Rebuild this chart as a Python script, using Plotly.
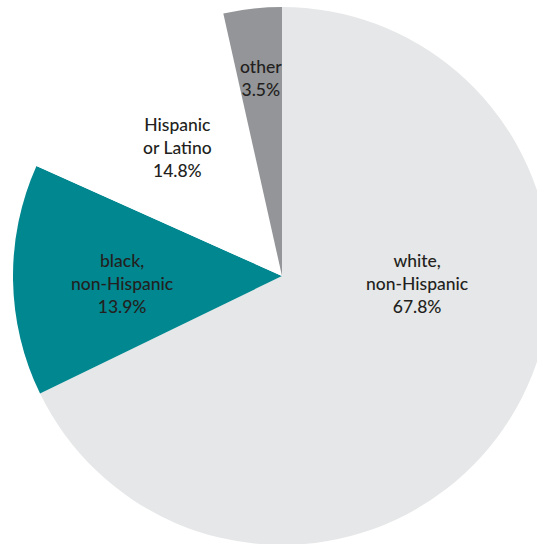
import plotly.graph_objects as go

# Data
categories = ["white,<br>non-Hispanic", "black,<br>non-Hispanic", "Hispanic<br>or Latino", "other"]
shares = [67.8, 13.9, 14.8, 3.5]

# Styles
colors = ["#e6e7e8", "#00878f", "#ffffff", "#939598"]
label_px = [(417, 283), (122, 283), (177, 148), (261, 78)]  # label centers in pixels

W, H = 560, 550
cx, cy, r = 282, 276, 269

fig = go.Figure(go.Pie(
    labels=categories,
    values=shares,
    sort=False,
    direction="clockwise",
    rotation=0,
    marker=dict(colors=colors, line=dict(width=0)),
    textinfo="none",
    hoverinfo="label+percent",
    domain=dict(x=[(cx - r) / W, (cx + r) / W], y=[(H - (cy + r)) / H, (H - (cy - r)) / H]),
    showlegend=False,
))

for cat, val, (px, py) in zip(categories, shares, label_px):
    fig.add_annotation(
        x=px / W, y=1 - py / H, xref="paper", yref="paper",
        text=f"{cat}<br>{val:.1f}%", showarrow=False,
        xanchor="center", yanchor="middle", align="center",
        font=dict(family="Lato", size=17.5, color="#231f20", weight=500),
    )

fig.update_layout(
    width=W, height=H,
    margin=dict(l=0, r=0, t=0, b=0),
    paper_bgcolor="white",
    plot_bgcolor="white",
)

fig.write_html(
    "out.html",
    config={"displayModeBar": False},
    post_script="document.body.style.margin='0';document.body.style.overflow='hidden';",
)
